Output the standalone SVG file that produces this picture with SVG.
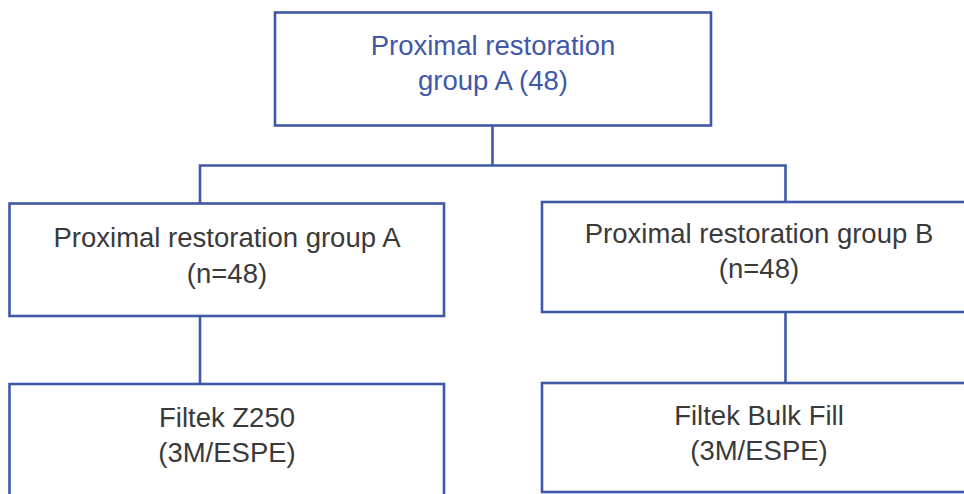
<svg xmlns="http://www.w3.org/2000/svg" width="964" height="494" viewBox="0 0 964 494">
<style>
.box{fill:#fff;stroke:#3f58a8;stroke-width:2.6}
.conn{fill:none;stroke:#3f58a8;stroke-width:2.6}
text{font-family:"Liberation Sans",Arial,sans-serif;font-size:27.5px;text-anchor:middle}
.blue{fill:#3f58a8}
.dark{fill:#3a3a3a}
</style>
<rect width="964" height="494" fill="#fff"/>
<g id="connectors">
<path class="conn" d="M492.5,125 V165.5 M200,165.5 H785.5 M200,164.2 V203.5 M785.5,164.2 V202"/>
<path class="conn" d="M200,316 V384"/>
<path class="conn" d="M785.5,312 V383"/>
</g>
<g id="top">
<rect class="box" x="275" y="12.5" width="436" height="113"/>
<text class="blue" x="493" y="55">Proximal restoration</text>
<text class="blue" x="493" y="89.5">group A (48)</text>
</g>
<g id="groupA">
<rect class="box" x="9.5" y="203.5" width="434.5" height="112.5"/>
<text class="dark" x="227" y="247">Proximal restoration group A</text>
<text class="dark" x="227" y="282.5">(n=48)</text>
</g>
<g id="groupB">
<rect class="box" x="542" y="202" width="440" height="110"/>
<text class="dark" x="759" y="243">Proximal restoration group B</text>
<text class="dark" x="759" y="278">(n=48)</text>
</g>
<g id="z250">
<rect class="box" x="9.5" y="384" width="434.5" height="130"/>
<text class="dark" x="227" y="426.5">Filtek Z250</text>
<text class="dark" x="227" y="461.5">(3M/ESPE)</text>
</g>
<g id="bulkfill">
<rect class="box" x="542" y="383" width="440" height="109"/>
<text class="dark" x="759" y="424.5">Filtek Bulk Fill</text>
<text class="dark" x="759" y="460">(3M/ESPE)</text>
</g>
</svg>
